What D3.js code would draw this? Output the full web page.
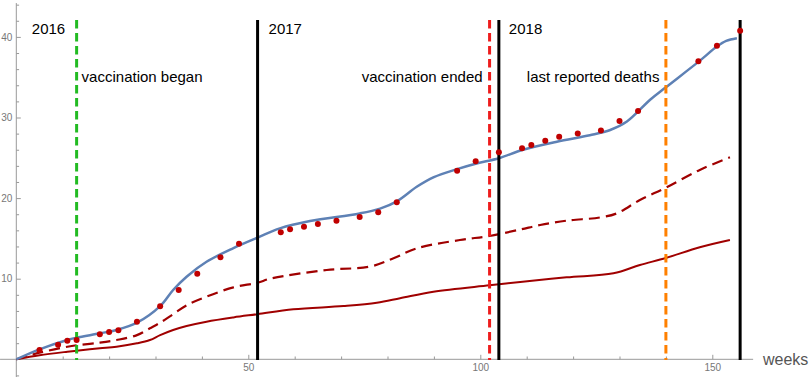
<!DOCTYPE html>
<html>
<head>
<meta charset="utf-8">
<script src="https://cdn.jsdelivr.net/npm/d3@7"></script>
<style>
  body { margin: 0; background: #fff; }
  svg { display: block; font-family: "Liberation Sans", Arial, sans-serif; }
  .tick text { fill: #777; font-size: 10px; }
</style>
</head>
<body>
<script>
var svgWidth = 809;
var svgHeight = 379;

// reported cases (red dots)
var dotWeeks = [5, 9, 11, 13, 18, 20, 22, 26, 31, 35, 39, 44, 48, 57, 59, 62, 65, 69, 74, 78, 82, 95, 99, 104, 109, 111, 114, 117, 121, 126, 130, 134, 147, 151, 156];
var dotValues = [1.15, 1.82, 2.31, 2.39, 3.1, 3.39, 3.6, 4.67, 6.58, 8.6, 10.6, 12.65, 14.35, 15.76, 16.13, 16.45, 16.79, 17.2, 17.65, 18.24, 19.48, 23.4, 24.57, 25.68, 26.2, 26.6, 27.1, 27.6, 28.0, 28.4, 29.57, 30.8, 36.97, 38.9, 40.77];

// fitted model (blue)
var fitWeeks = [0, 5, 11, 13, 18, 21.6, 26, 31, 33.8, 36.7, 41, 46.8, 52, 56.8, 63.3, 74, 78.4, 82, 86.3, 90, 95, 99.2, 104, 109, 116.5, 123.6, 128, 131.6, 136.6, 140, 147, 151, 153, 155.3];
var fitValues = [0, 1.24, 2.4, 2.68, 3.22, 3.64, 4.54, 6.6, 8.6, 10.25, 12.1, 13.8, 15.1, 16.25, 17.16, 18.1, 18.7, 19.6, 21.4, 22.6, 23.6, 24.3, 24.95, 25.97, 27.0, 27.8, 28.45, 29.5, 32.2, 33.75, 36.9, 38.8, 39.5, 39.83];

// dashed dark red curve
var dashWeeks = [0, 5, 11, 13, 18, 21.6, 26, 28.8, 31, 33.8, 36.7, 41, 46.8, 52, 54.7, 66.9, 76.2, 81.3, 86.3, 95.6, 102, 108.6, 112.9, 118.6, 125.8, 129.4, 134.4, 140, 147.3, 153.8];
var dashValues = [0, 0.82, 1.56, 1.74, 2.06, 2.39, 3.0, 3.85, 4.54, 5.6, 6.7, 7.77, 8.93, 9.5, 10.0, 11.08, 11.5, 12.53, 13.77, 14.8, 15.3, 16.1, 16.66, 17.2, 17.6, 18.1, 19.76, 21.3, 23.5, 25.06];

// solid dark red curve
var lowWeeks = [0, 5, 11, 13, 18, 21.6, 26, 28.8, 31, 33.8, 36.7, 41, 46.8, 52, 59.7, 70.5, 77.7, 82.7, 89.9, 102, 108.6, 118.6, 128.7, 134.4, 140, 147.3, 153.8];
var lowValues = [0, 0.5, 0.94, 1.07, 1.36, 1.56, 1.98, 2.39, 3.0, 3.64, 4.13, 4.67, 5.2, 5.6, 6.2, 6.61, 7.02, 7.57, 8.39, 9.18, 9.59, 10.17, 10.67, 11.7, 12.57, 13.9, 14.8];

// vertical markers
var markerWeeks = [13, 52, 102, 104, 140, 156];
var markerColors = ["#22bb22", "#000", "#ee1c1c", "#000", "#ff8000", "#000"];
var markerDashed = [true, false, true, false, true, false];

var yearLabels = ["2016", "2017", "2018"];
var eventLabels = ["vaccination began", "vaccination ended", "last reported deaths"];

var xMajor = [50, 100, 150];
var xMinor = d3.range(10, 160, 10).filter(d => d % 50 !== 0);
var yMajor = [10, 20, 30, 40];
var yMinor = d3.range(-2, 45, 2).filter(d => d % 10 !== 0);

var svg = d3.select('body').append('svg')
    .attr('width', svgWidth)
    .attr('height', svgHeight);

var x = d3.scaleLinear().domain([0, 150]).range([16.3, 712.3]);
var y = d3.scaleLinear().domain([0, 40]).range([359.3, 36.9]);

// axis lines
svg.append('line')
    .attr('x1', x(-3.5)).attr('x2', x(158.8))
    .attr('y1', y(0)).attr('y2', y(0))
    .attr('stroke', '#999').attr('stroke-width', 1);
svg.append('line')
    .attr('x1', x(0)).attr('x2', x(0))
    .attr('y1', y(-2.2)).attr('y2', y(44.2))
    .attr('stroke', '#999').attr('stroke-width', 1);

// ticks
var xAxisMajor = svg.append('g')
    .attr('transform', `translate(0, ${y(0)})`)
    .call(d3.axisBottom(x).tickValues(xMajor).tickSize(-4.5).tickPadding(5));
var xAxisMinor = svg.append('g')
    .attr('transform', `translate(0, ${y(0)})`)
    .call(d3.axisBottom(x).tickValues(xMinor).tickSize(-2.8).tickFormat(''));
var yAxisMajor = svg.append('g')
    .attr('transform', `translate(${x(0)}, 0)`)
    .call(d3.axisLeft(y).tickValues(yMajor).tickSize(-4.5).tickPadding(4));
var yAxisMinor = svg.append('g')
    .attr('transform', `translate(${x(0)}, 0)`)
    .call(d3.axisLeft(y).tickValues(yMinor).tickSize(-2.8).tickFormat(''));

[xAxisMajor, xAxisMinor, yAxisMajor, yAxisMinor].forEach(g => {
    g.select('.domain').remove();
    g.selectAll('.tick line').attr('stroke', '#999');
});

svg.append('text')
    .attr('x', 763).attr('y', 365)
    .attr('fill', '#555')
    .style('font-size', '16px')
    .text('weeks');

// curves
var line = d3.line()
    .x(d => x(d[0]))
    .y(d => y(d[1]))
    .curve(d3.curveCatmullRom.alpha(0.5));

svg.append('path')
    .datum(d3.zip(lowWeeks, lowValues))
    .attr('d', line)
    .attr('fill', 'none')
    .attr('stroke', '#a00000')
    .attr('stroke-width', 2);

svg.append('path')
    .datum(d3.zip(dashWeeks, dashValues))
    .attr('d', line)
    .attr('fill', 'none')
    .attr('stroke', '#a00000')
    .attr('stroke-width', 2.2)
    .attr('stroke-dasharray', '11,6');

svg.append('path')
    .datum(d3.zip(fitWeeks, fitValues))
    .attr('d', line)
    .attr('fill', 'none')
    .attr('stroke', '#5e81b5')
    .attr('stroke-width', 2.5);

// vertical marker lines
svg.selectAll('.marker')
    .data(markerWeeks)
    .enter()
    .append('line')
    .attr('class', 'marker')
    .attr('x1', d => x(d)).attr('x2', d => x(d))
    .attr('y1', y(42.1)).attr('y2', y(-0.1))
    .attr('stroke', (d, i) => markerColors[i])
    .attr('stroke-width', 3)
    .attr('stroke-dasharray', (d, i) => markerDashed[i] ? '8.5,4.5' : null);

// data points
svg.selectAll('.dot')
    .data(d3.zip(dotWeeks, dotValues))
    .enter()
    .append('circle')
    .attr('class', 'dot')
    .attr('cx', d => x(d[0]))
    .attr('cy', d => y(d[1]))
    .attr('r', 3)
    .attr('fill', '#c00000');

// labels
var labelFont = '15px';
svg.append('text').attr('x', x(0) + 15.5).attr('y', 33.5)
    .style('font-size', labelFont).text(yearLabels[0]);
svg.append('text').attr('x', x(52) + 11).attr('y', 33.5)
    .style('font-size', labelFont).text(yearLabels[1]);
svg.append('text').attr('x', x(104) + 10).attr('y', 33.5)
    .style('font-size', labelFont).text(yearLabels[2]);

svg.append('text').attr('x', x(13) + 5).attr('y', 81.7)
    .style('font-size', labelFont).text(eventLabels[0]);
svg.append('text').attr('x', x(102) - 7).attr('y', 81.7)
    .attr('text-anchor', 'end')
    .style('font-size', labelFont).text(eventLabels[1]);
svg.append('text').attr('x', x(140) - 6.5).attr('y', 81.7)
    .attr('text-anchor', 'end')
    .style('font-size', labelFont).text(eventLabels[2]);
</script>
</body>
</html>
